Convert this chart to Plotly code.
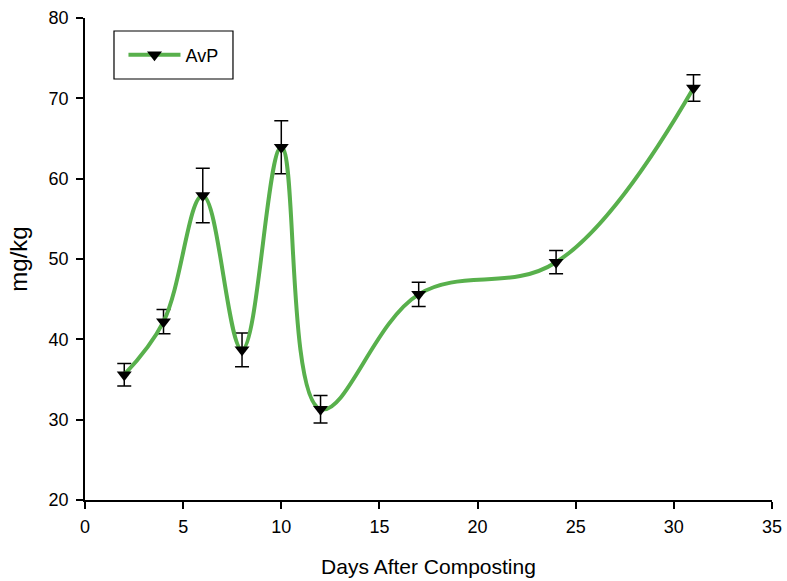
import plotly.graph_objects as go

days = [2, 4, 6, 8, 10, 12, 17, 24, 31]
avp = [35.6, 42.2, 57.9, 38.7, 63.9, 31.3, 45.6, 49.6, 71.3]
avp_err = [1.4, 1.5, 3.4, 2.1, 3.3, 1.7, 1.5, 1.45, 1.65]

x_ticks = [0, 5, 10, 15, 20, 25, 30, 35]
y_ticks = [20, 30, 40, 50, 60, 70, 80]

FONT = "Arial, Liberation Sans, sans-serif"

fig = go.Figure()
fig.add_trace(go.Scatter(
    x=days, y=avp, name="AvP", mode="lines+markers",
    line=dict(color="#58b04c", width=4, shape="spline", smoothing=1.1),
    marker=dict(symbol="triangle-down", size=13, color="black"),
    error_y=dict(type="data", array=avp_err, visible=True, color="black",
                 thickness=1.5, width=7),
))

# legend frame
fig.add_shape(type="rect", xref="paper", yref="paper",
              x0=0.0422, x1=0.2154, y0=0.8734, y1=0.973,
              line=dict(color="black", width=1.2), fillcolor="rgba(0,0,0,0)")

fig.update_layout(
    width=787, height=581,
    margin=dict(l=85, r=15, t=18, b=81, autoexpand=False),
    paper_bgcolor="white", plot_bgcolor="white",
    font=dict(family=FONT, color="black", size=18),
    showlegend=True,
    legend=dict(x=0.056, y=0.923, xanchor="left", yanchor="middle",
                borderwidth=0, bgcolor="rgba(0,0,0,0)",
                font=dict(size=18, family=FONT), itemwidth=52),
    xaxis=dict(range=[0, 35], tickvals=x_ticks, showgrid=False, zeroline=False,
               showline=True, linecolor="black", linewidth=1.5, automargin=False,
               ticks="outside", ticklen=7, tickwidth=1.5, tickcolor="black",
               tickfont=dict(size=18), ticklabelstandoff=3,
               title=dict(text="Days After Composting", font=dict(size=21), standoff=23)),
    yaxis=dict(range=[20, 80], tickvals=y_ticks, showgrid=False, zeroline=False,
               showline=True, linecolor="black", linewidth=1.5, automargin=False,
               ticks="outside", ticklen=7, tickwidth=1.5, tickcolor="black",
               tickfont=dict(size=18), ticklabelstandoff=4,
               title=dict(text="mg/kg", font=dict(size=24), standoff=14)),
)

fig.write_html("out.html", config={"displayModeBar": False},
               post_script="document.body.style.margin='0';document.body.style.overflow='hidden';")
